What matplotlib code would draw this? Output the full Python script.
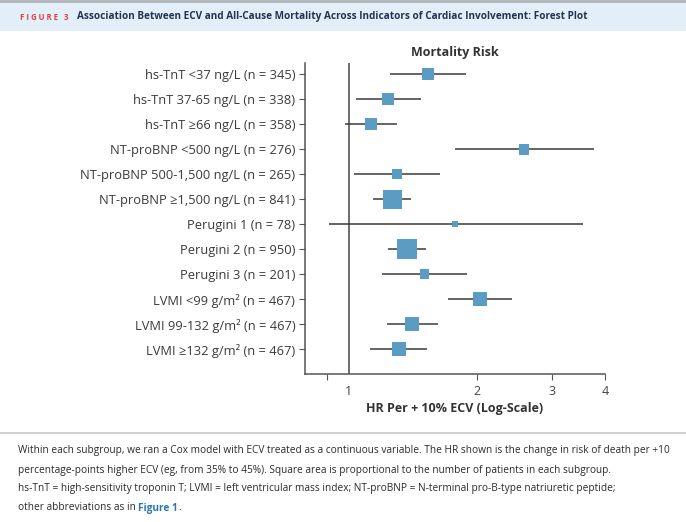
import numpy as np
import matplotlib
matplotlib.use("Agg")
import matplotlib.pyplot as plt
from matplotlib.patches import Rectangle
from matplotlib.lines import Line2D

# Subgroups, sizes and HR (95% CI)
labels = [
    "hs-TnT <37 ng/L (n = 345)",
    "hs-TnT 37-65 ng/L (n = 338)",
    "hs-TnT \u226566 ng/L (n = 358)",
    "NT-proBNP <500 ng/L (n = 276)",
    "NT-proBNP 500-1,500 ng/L (n = 265)",
    "NT-proBNP \u22651,500 ng/L (n = 841)",
    "Perugini 1 (n = 78)",
    "Perugini 2 (n = 950)",
    "Perugini 3 (n = 201)",
    "LVMI <99 g/m\u00b2 (n = 467)",
    "LVMI 99-132 g/m\u00b2 (n = 467)",
    "LVMI \u2265132 g/m\u00b2 (n = 467)",
]
n_pat = [345, 338, 358, 276, 265, 841, 78, 950, 201, 467, 467, 467]
hr = [1.54, 1.24, 1.13, 2.58, 1.30, 1.27, 1.78, 1.37, 1.51, 2.03, 1.41, 1.31]
lo = [1.25, 1.04, 0.98, 1.78, 1.03, 1.14, 0.90, 1.24, 1.20, 1.71, 1.23, 1.12]
hi = [1.89, 1.48, 1.30, 3.77, 1.64, 1.40, 3.55, 1.52, 1.90, 2.42, 1.62, 1.53]

FONT = ["Open Sans", "DejaVu Sans"]
plt.rcParams["font.family"] = FONT

fig = plt.figure(figsize=(6.86, 5.22), dpi=100)
W, H = 686, 522


def fit_text(x, y, s, width_px, fs=9, **kw):
    # place text and shrink the font so it spans width_px pixels
    t = fig.text(x / W, 1 - y / H, s, fontsize=fs, va="center", **kw)
    fig.canvas.draw()
    w = t.get_window_extent().width
    t.set_fontsize(fs * width_px / w)
    return t


# header band
fig.patches.append(Rectangle((0, 1 - 31 / H), 1, 28 / H, transform=fig.transFigure,
                             facecolor="#e2eef8", edgecolor="none", zorder=0))
fig.patches.append(Rectangle((0, 1 - 3 / H), 1, 3 / H, transform=fig.transFigure,
                             facecolor="#b4b8bc", edgecolor="none", zorder=0))
fit_text(20, 17, "F I G U R E   3", 48, fs=7, color="#e0403c", fontweight="bold")
fit_text(77, 17,
         "Association Between ECV and All-Cause Mortality Across Indicators of Cardiac Involvement: Forest Plot",
         511, fs=9, color="#1f3552", fontweight="bold")

ax = fig.add_axes([305 / W, 1 - 374 / H, 300 / W, 311 / H])
y = np.arange(len(labels))
side_px = 20 * np.sqrt(np.array(n_pat) / 950)
ax.hlines(y, lo, hi, color="#3a3a3a", lw=1.1, zorder=2)
ax.scatter(hr, y, marker="s", s=(side_px * 0.72) ** 2, color="#5a9cc4",
           edgecolor="none", zorder=3)
ax.axvline(1, color="#555555", lw=1.2, zorder=1)

ax.set_xscale("log")
ax.set_xlim(0.79, 4)
ax.set_ylim(12, -0.45)
ax.set_yticks(y)
ax.set_yticklabels(labels, fontsize=9.3, color="#3a3a3a")
ax.set_xticks([0.89, 2, 3, 4])
ax.set_xticklabels(["", "2", "3", "4"])
ax.set_xticks([1], labels=["1"], minor=True)
ax.tick_params(axis="x", which="minor", length=0, labelsize=9, labelcolor="#444444", pad=8)
ax.tick_params(axis="x", which="major", length=4, labelsize=9, labelcolor="#444444",
               color="#555555", pad=4)
ax.tick_params(axis="y", length=4, color="#555555", pad=3)
for s in ["top", "right"]:
    ax.spines[s].set_visible(False)
for s in ["left", "bottom"]:
    ax.spines[s].set_color("#555555")
    ax.spines[s].set_linewidth(1.1)
ax.set_title("Mortality Risk", fontsize=9, fontweight="bold", color="#333333", pad=5)
ax.set_xlabel("HR Per + 10% ECV (Log-Scale)", fontsize=9, fontweight="bold",
              color="#333333", labelpad=3)

# separator and caption
fig.add_artist(Line2D([0, 1], [1 - 433 / H] * 2, color="#c8c8c8", lw=1.2,
                      transform=fig.transFigure))
caption = [
    "Within each subgroup, we ran a Cox model with ECV treated as a continuous variable. The HR shown is the change in risk of death per +10",
    "percentage-points higher ECV (eg, from 35% to 45%). Square area is proportional to the number of patients in each subgroup.",
    "hs-TnT = high-sensitivity troponin T; LVMI = left ventricular mass index; NT-proBNP = N-terminal pro-B-type natriuretic peptide;",
]
first = fit_text(18, 451, caption[0], 654, fs=8, color="#2a2a2a")
cfs = first.get_fontsize()
for i, line in enumerate(caption[1:], start=1):
    fig.text(18 / W, 1 - (451 + 19 * i) / H, line, fontsize=cfs, color="#2a2a2a",
             va="center")
t = fig.text(18 / W, 1 - 508 / H, "other abbreviations as in ", fontsize=cfs,
             color="#2a2a2a", va="center")
fig.canvas.draw()
bb = t.get_window_extent()
t2 = fig.text(bb.x1 / W, 1 - 508 / H, "Figure 1", fontsize=cfs, color="#2878b4",
              fontweight="bold", va="center")
fig.canvas.draw()
bb2 = t2.get_window_extent()
fig.text(bb2.x1 / W, 1 - 508 / H, ".", fontsize=cfs, color="#2a2a2a", va="center")

fig.savefig("out.png", dpi=100)
